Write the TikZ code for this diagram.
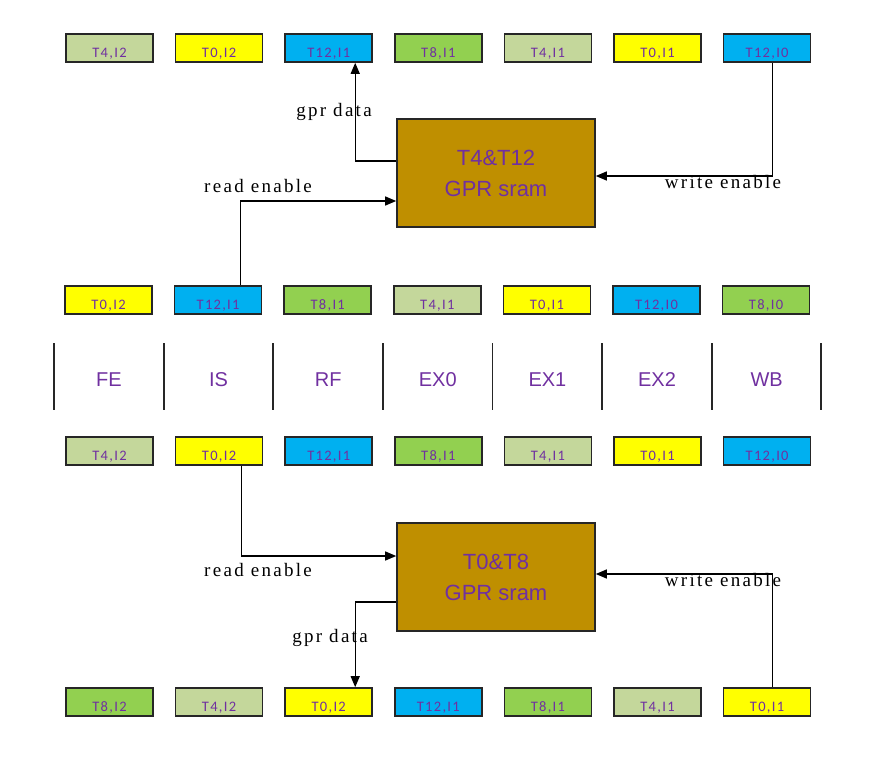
\documentclass[tikz,border=0pt]{standalone}
\usepackage{fontspec}
\setmainfont{Liberation Serif}
\newfontfamily\sigfont[LetterSpace=12]{Liberation Serif}
\newfontfamily\cellfont[LetterSpace=9]{Carlito}
\newfontfamily\stagefont{Liberation Sans}
\usetikzlibrary{arrows.meta}
\definecolor{lgrn}{HTML}{C4D79B}
\definecolor{yel}{HTML}{FFFF00}
\definecolor{cyn}{HTML}{00B0F0}
\definecolor{grn}{HTML}{92D050}
\definecolor{gold}{HTML}{BF8F00}
\definecolor{purp}{HTML}{7030A0}

\begin{document}
\begin{tikzpicture}[x=1pt,y=-1pt,
  cell/.style={draw=black!85,line width=1.6pt,minimum width=87pt,minimum height=28pt,
    inner sep=0pt,text=purp,font=\cellfont\fontsize{14.5}{14}\selectfont},
  sram/.style={draw=black!85,line width=1.6pt,fill=gold,minimum width=198pt,minimum height=108pt,
    align=center,text=purp,font=\stagefont\fontsize{22}{31}\selectfont},
  link/.style={line width=1.3pt,-{Triangle[length=11pt,width=9pt]}},
  sig/.style={font=\sigfont\fontsize{19}{19}\selectfont},
  stage/.style={text=purp,font=\stagefont\fontsize{20}{20}\selectfont}]
\useasboundingbox (0,0) rectangle (882,766);
% pipeline rows
\foreach \lab/\col [count=\i] in {T4{,}I2/lgrn,T0{,}I2/yel,T12{,}I1/cyn,T8{,}I1/grn,T4{,}I1/lgrn,T0{,}I1/yel,T12{,}I0/cyn}
  \node[cell,fill=\col] (a\i) at ({109.5+109.6*(\i-1)},48) {\raisebox{-9pt}[0pt][0pt]{\lab}};
\foreach \lab/\col [count=\i] in {T0{,}I2/yel,T12{,}I1/cyn,T8{,}I1/grn,T4{,}I1/lgrn,T0{,}I1/yel,T12{,}I0/cyn,T8{,}I0/grn}
  \node[cell,fill=\col] (b\i) at ({108.5+109.6*(\i-1)},300) {\raisebox{-9pt}[0pt][0pt]{\lab}};
\foreach \lab/\col [count=\i] in {T4{,}I2/lgrn,T0{,}I2/yel,T12{,}I1/cyn,T8{,}I1/grn,T4{,}I1/lgrn,T0{,}I1/yel,T12{,}I0/cyn}
  \node[cell,fill=\col] (c\i) at ({109.5+109.6*(\i-1)},451) {\raisebox{-9pt}[0pt][0pt]{\lab}};
\foreach \lab/\col [count=\i] in {T8{,}I2/grn,T4{,}I2/lgrn,T0{,}I2/yel,T12{,}I1/cyn,T8{,}I1/grn,T4{,}I1/lgrn,T0{,}I1/yel}
  \node[cell,fill=\col] (d\i) at ({109.5+109.6*(\i-1)},702) {\raisebox{-9pt}[0pt][0pt]{\lab}};
% stages
\foreach \k in {0,...,7}
  \draw[line width=1.8pt,black!85] ({54+109.6*\k},343) -- ({54+109.6*\k},410);
\foreach \st [count=\i] in {FE,IS,RF,EX0,EX1,EX2,WB}
  \node[stage] (s\i) at ({109+109.6*(\i-1)},380) {\st};
% sram blocks
\node[sram] (top) at (496,173) {T4\&T12\\GPR sram};
\node[sram] (bot) at (496,577) {T0\&T8\\GPR sram};
% top connections
\draw[link] ([yshift=12pt]top.west) -| ([xshift=26.5pt]a3.south);
\draw[link] ([xshift=22.5pt]b2.north) |- ([yshift=-28pt]top.west);
\draw[link] ([xshift=5.5pt]a7.south) |- ([yshift=-3pt]top.east);
\node[sig] (gd1) at (334,112) {gpr data};
\node[sig] (re1) at (258,186) {read enable};
\node[sig] (we1) at (723,182) {write enable};
% bottom connections
\draw[link] ([xshift=22.5pt]c2.south) |- ([yshift=21pt]bot.west);
\draw[link] ([yshift=-25pt]bot.west) -| ([xshift=26.5pt]d3.north);
\draw[link] ([xshift=5.5pt]d7.north) |- ([yshift=3pt]bot.east);
\node[sig] (re2) at (258,570) {read enable};
\node[sig] (gd2) at (330,638) {gpr data};
\node[sig] (we2) at (723,580) {write enable};
\end{tikzpicture}
\end{document}
